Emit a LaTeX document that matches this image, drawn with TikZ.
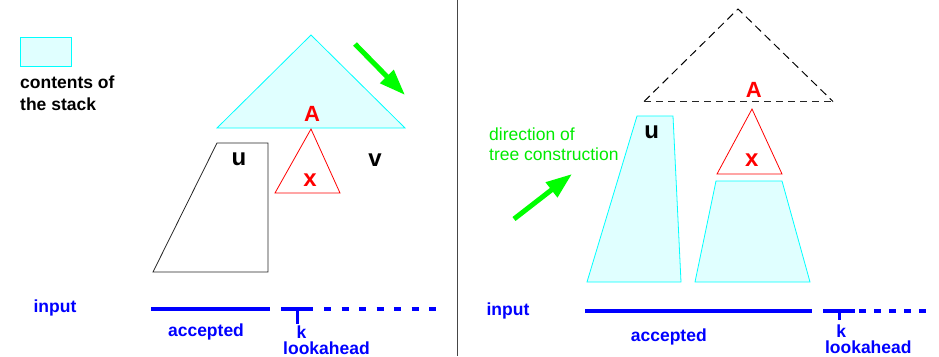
\documentclass[tikz,border=0pt]{standalone}
\usepackage{fontspec}
\setmainfont{Liberation Sans}
\usetikzlibrary{arrows.meta}
\definecolor{stackfill}{RGB}{224,255,255}
\definecolor{stackline}{RGB}{0,255,255}
\definecolor{arrowgreen}{RGB}{0,255,0}
\definecolor{textgreen}{RGB}{0,235,0}
\definecolor{inblue}{RGB}{0,0,255}
\definecolor{divider}{RGB}{70,70,70}
\begin{document}
\begin{tikzpicture}[x=1pt,y=-1pt,
  lbl/.style={inner sep=0pt, anchor=base, text=inblue, font=\fontsize{17.5}{21}\selectfont\bfseries},
  legendtxt/.style={inner sep=0pt, anchor=base west, font=\fontsize{17.5}{21}\selectfont\bfseries},
  greentxt/.style={inner sep=0pt, anchor=base west, text=textgreen, font=\fontsize{17.5}{21}\selectfont},
  bigtxt/.style={inner sep=0pt, anchor=base, font=\fontsize{24}{28}\selectfont\bfseries},
  atxt/.style={inner sep=0pt, anchor=base, text=red, font=\fontsize{22}{26}\selectfont\bfseries},
  stackshape/.style={draw=stackline, fill=stackfill, line width=0.8pt, line join=miter},
  redtri/.style={draw=red, line width=0.8pt},
  plainshape/.style={draw=black!85, line width=0.8pt},
  dashside/.style={draw=black, line width=1pt, dash pattern=on 8pt off 5pt},
  dashbase/.style={draw=black!85, line width=1.4pt, dash pattern=on 7pt off 5pt},
  inputline/.style={draw=inblue, line width=3.5pt},
  ticks/.style={draw=inblue, line width=3pt},
  lookdashL/.style={draw=inblue, line width=3.5pt, dash pattern=on 7pt off 10.5pt},
  lookdashR/.style={draw=inblue, line width=3.5pt, dash pattern=on 7pt off 8pt},
  bigarrow/.style={draw=arrowgreen, line width=5pt, -{Triangle[length=26pt,width=18pt]}},
]
\useasboundingbox (0,0) rectangle (939,356);

% divider
\draw[draw=divider, line width=1pt] (457.5,0) -- (457.5,356);

% ---------------- left panel ----------------
% legend
\draw[stackshape] (20,37) rectangle (71,66);
\node[legendtxt] (leg1) at (20,88.3) {contents of};
\node[legendtxt] (leg2) at (20,110.7) {the stack};

% stack triangle
\coordinate (LTa) at (311,35);
\coordinate (LTl) at (217,128);
\coordinate (LTr) at (405,128);
\draw[stackshape] (LTa) -- (LTl) -- (LTr) -- cycle;

% green arrow
\coordinate (LGs) at (355,44);
\coordinate (LGe) at (405,95);
\draw[bigarrow] (LGs) -- (LGe);

\node[atxt] (LA) at (312,121.7) {A};

% red triangle x
\draw[redtri] (311,129) -- (275,193) -- (340,193) -- cycle;
\node[bigtxt, text=red] (Lx) at (310,186) {x};

% u trapezoid
\draw[plainshape] (217,143) -- (268,143) -- (268,272) -- (153,272) -- cycle;
\node[bigtxt] (Lu) at (239,165.7) {u};
\node[bigtxt] (Lv) at (375,166.7) {v};

% input
\node[lbl] (Lin) at (55,312) {input};
\coordinate (LacS) at (151,309);
\coordinate (LacE) at (270,309);
\draw[inputline] (LacS) -- (LacE);
\coordinate (LlkS) at (281,309);
\coordinate (LlkE) at (313,309);
\draw[inputline] (LlkS) -- (LlkE);
\coordinate (LtkT) at (297,309);
\coordinate (LtkB) at (297,324);
\draw[ticks] (LtkT) -- (LtkB);
\coordinate (LdS) at (324,309);
\coordinate (LdE) at (437,309);
\draw[lookdashL] (LdS) -- (LdE);
\node[lbl] (Lacc) at (206,336) {accepted};
\node[lbl] (Lk) at (301.5,338) {k};
\node[lbl] (Llook) at (326.5,354) {lookahead};

% ---------------- right panel ----------------
% dashed triangle
\coordinate (RTa) at (738,9);
\coordinate (RTl) at (644,101.5);
\coordinate (RTr) at (833,101.5);
\draw[dashside] (RTl) -- (RTa) -- (RTr);
\draw[dashbase] (RTl) -- (RTr);
\node[atxt] (RA) at (753.7,97.3) {A};

% red triangle
\draw[redtri] (752,109) -- (717,174) -- (782,174) -- cycle;
\node[bigtxt, text=red] (Rx) at (751.7,166.7) {x};

% u trapezoid (cyan)
\draw[stackshape] (637,116) -- (673,116) -- (681,282) -- (587,282) -- cycle;
\node[bigtxt] (Ru) at (651.7,138) {u};

% second cyan trapezoid
\draw[stackshape] (716,181) -- (782,181) -- (810,282) -- (695,282) -- cycle;

% direction text and arrow
\node[greentxt] (Rd1) at (489,140) {direction of};
\node[greentxt] (Rd2) at (489,160) {tree construction};
\coordinate (RGs) at (514,219);
\coordinate (RGe) at (572,174);
\draw[bigarrow] (RGs) -- (RGe);

% input
\node[lbl] (Rin) at (508,315) {input};
\coordinate (RacS) at (585,311);
\coordinate (RacE) at (812,311);
\draw[inputline] (RacS) -- (RacE);
\coordinate (RlkS) at (823,311);
\coordinate (RlkE) at (855,311);
\draw[inputline] (RlkS) -- (RlkE);
\coordinate (RtkT) at (839,311);
\coordinate (RtkB) at (839,319.5);
\draw[ticks] (RtkT) -- (RtkB);
\coordinate (RdS) at (859,311);
\coordinate (RdE) at (928,311);
\draw[lookdashR] (RdS) -- (RdE);
\node[lbl] (Racc) at (668.8,341.7) {accepted};
\node[lbl] (Rk) at (841.3,337.3) {k};
\node[lbl] (Rlook) at (868.3,353.3) {lookahead};
\end{tikzpicture}
\end{document}
